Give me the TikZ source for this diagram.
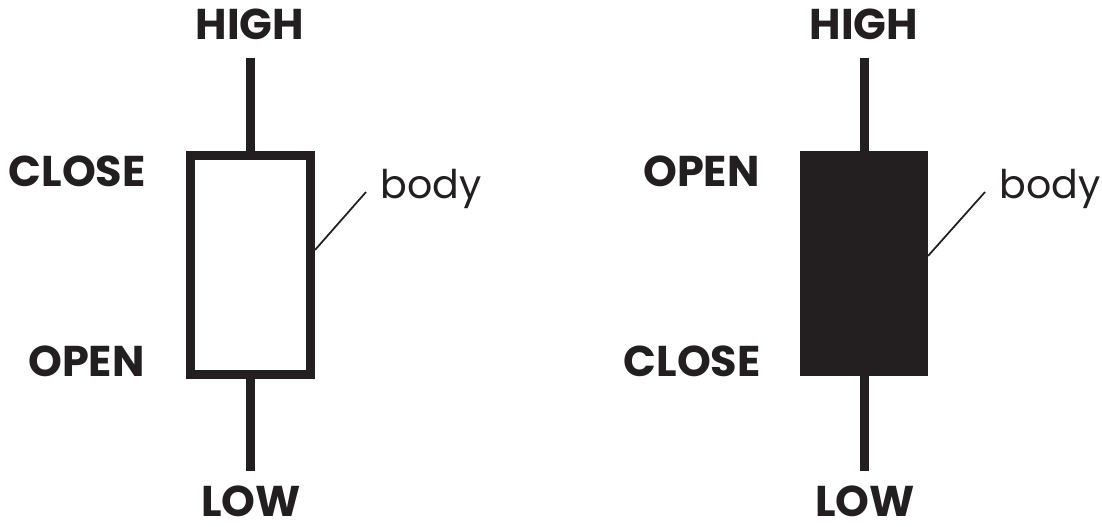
\documentclass[tikz,border=0pt]{standalone}
\usepackage{fontspec}
\setmainfont{Poppins}
\usetikzlibrary{positioning}
\definecolor{inkblack}{HTML}{231F20}

\begin{document}
\begin{tikzpicture}[x=0.02cm, y=-0.02cm]
\tikzstyle{price} = [font=\fontsize{24.5}{28}\selectfont\bfseries, text=inkblack, inner sep=0pt]
\tikzstyle{tag} = [font=\fontsize{22.5}{26}\selectfont, text=inkblack, inner sep=0pt]
\tikzstyle{wick} = [draw=inkblack, line width=0.18cm]
\tikzstyle{leader} = [draw=inkblack, line width=0.035cm]
\tikzstyle{hollow} = [rectangle, draw=inkblack, fill=white, line width=0.18cm, outer sep=0pt, minimum width=2.4cm, minimum height=4.38cm]
\tikzstyle{solid} = [rectangle, fill=inkblack, outer sep=0pt, minimum width=2.56cm, minimum height=4.5cm]

\useasboundingbox (0,0) rectangle (1102,527);

% Rising candle
\node (whigh) [price, anchor=base] at (250,40) {HIGH};
\node (wlow) [price, anchor=base] at (251,516) {LOW};
\coordinate (wtop) at (250,58);
\coordinate (wbot) at (250,471);
\draw [wick] (wtop) -- (250,265) -- (wbot);
\node (wbody) [hollow] at (250.5,265) {};
\node (wclose) [price, anchor=base east] at (146,186) {CLOSE};
\node (wopen) [price, anchor=base east] at (145,376) {OPEN};
\node (wlabel) [tag, anchor=base west] at (380,198) {body};
\draw [leader] ([xshift=0.09cm, yshift=0.3cm]wbody.east) -- ([xshift=-0.28cm, yshift=0.12cm]wlabel.base west);

% Falling candle
\node (bhigh) [price, anchor=base] at (864,40) {HIGH};
\node (blow) [price, anchor=base] at (865,516) {LOW};
\coordinate (btop) at (864,58);
\coordinate (bbot) at (864,471);
\draw [wick] (btop) -- (bbot);
\node (bbody) [solid] at (864,263.5) {};
\node (bopen) [price, anchor=base east] at (760,186) {OPEN};
\node (bclose) [price, anchor=base east] at (761,376) {CLOSE};
\node (blabel) [tag, anchor=base west] at (999,198) {body};
\draw [leader] ([yshift=0.15cm]bbody.east) -- ([xshift=-0.28cm, yshift=0.12cm]blabel.base west);

\end{tikzpicture}
\end{document}
